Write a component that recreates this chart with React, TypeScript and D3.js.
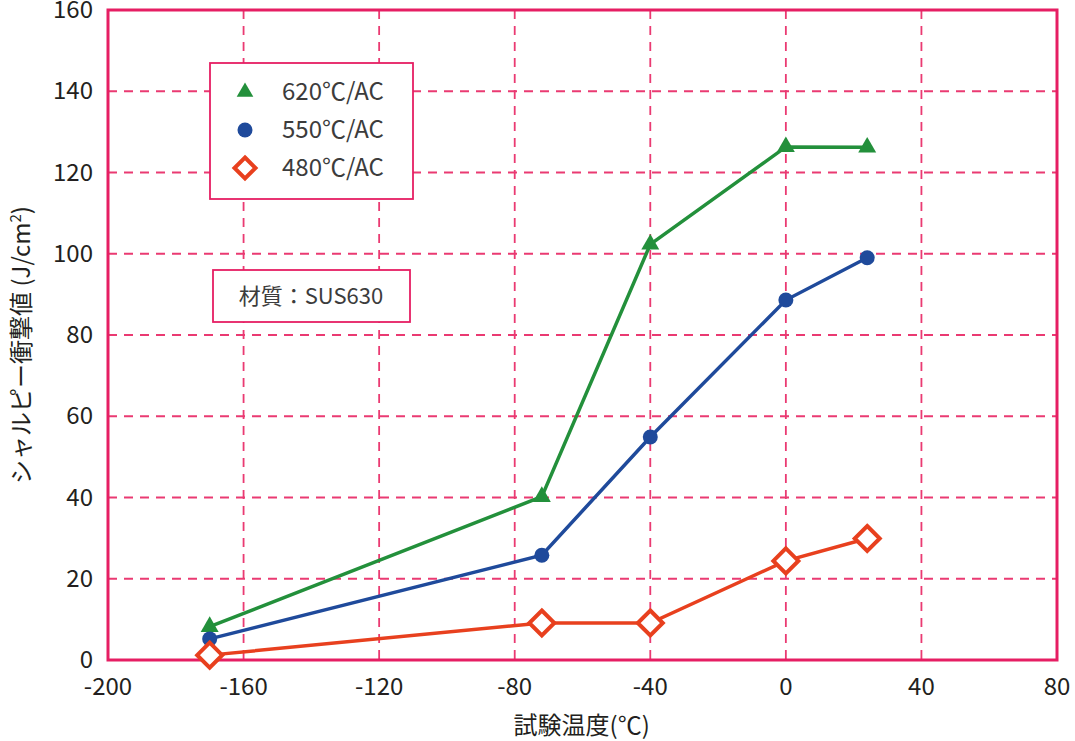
import React, { useEffect, useRef } from 'react';
import * as d3 from 'd3';

// test temperatures (°C)
const temps = [-170, -72, -40, 0, 24];
const series620 = [8.2, 40.2, 102.3, 126.3, 126.2];
const series550 = [5.2, 25.8, 54.9, 88.6, 99.0];
const series480 = [1.2, 9.1, 9.1, 24.4, 29.9];
const seriesNames = ['620℃/AC', '550℃/AC', '480℃/AC'];
const xTicks = [-200, -160, -120, -80, -40, 0, 40, 80];
const yTicks = [0, 20, 40, 60, 80, 100, 120, 140, 160];

const PINK = '#e61e63';
const GRID = '#ea3a72';
const GREEN = '#23903b';
const BLUE = '#1f4a9b';
const RED = '#e8401e';
const TEXT = '#231f20';
const FONT = '"Noto Sans CJK JP", "Noto Sans", sans-serif';

const App: React.FC = () => {
    const chartRef = useRef<SVGSVGElement | null>(null);

    useEffect(() => {
        if (!chartRef.current) return;
        const width = 1075;
        const height = 741;
        const margin = { top: 10, right: 18, bottom: 81, left: 108 };
        const w = width - margin.left - margin.right;
        const h = height - margin.top - margin.bottom;

        d3.select(chartRef.current).selectAll('*').remove();

        const root = d3.select(chartRef.current)
            .attr('width', width)
            .attr('height', height)
            .style('font-family', FONT);

        const svg = root.append('g')
            .attr('transform', `translate(${margin.left}, ${margin.top})`);

        const x = d3.scaleLinear().domain([-200, 80]).range([0, w]);
        const y = d3.scaleLinear().domain([0, 160]).range([h, 0]);

        // dashed grid
        svg.append('g')
            .selectAll('line.vg')
            .data(xTicks.slice(1, -1))
            .enter()
            .append('line')
            .attr('x1', d => x(d)).attr('x2', d => x(d))
            .attr('y1', 0).attr('y2', h)
            .attr('stroke', GRID)
            .attr('stroke-width', 1.8)
            .attr('stroke-dasharray', '9 7');

        svg.append('g')
            .selectAll('line.hg')
            .data(yTicks.slice(1, -1))
            .enter()
            .append('line')
            .attr('x1', 0).attr('x2', w)
            .attr('y1', d => y(d)).attr('y2', d => y(d))
            .attr('stroke', GRID)
            .attr('stroke-width', 1.8)
            .attr('stroke-dasharray', '9 7');

        // frame
        svg.append('rect')
            .attr('x', 0).attr('y', 0)
            .attr('width', w).attr('height', h)
            .attr('fill', 'none')
            .attr('stroke', PINK)
            .attr('stroke-width', 3);

        // tick labels
        svg.selectAll('text.xt')
            .data(xTicks)
            .enter()
            .append('text')
            .attr('x', d => x(d))
            .attr('y', h + 35)
            .attr('text-anchor', 'middle')
            .attr('fill', TEXT)
            .style('font-size', '24px')
            .text(d => d);

        svg.selectAll('text.yt')
            .data(yTicks)
            .enter()
            .append('text')
            .attr('x', -15)
            .attr('y', d => y(d) + 8)
            .attr('text-anchor', 'end')
            .attr('fill', TEXT)
            .style('font-size', '24px')
            .text(d => d);

        // axis titles
        svg.append('text')
            .attr('x', x(-80) + 67)
            .attr('y', h + 74)
            .attr('text-anchor', 'middle')
            .attr('fill', TEXT)
            .style('font-size', '24px')
            .text('試験温度(℃)');

        const yt = root.append('text')
            .attr('transform', 'translate(30, 345) rotate(-90)')
            .attr('text-anchor', 'middle')
            .attr('fill', TEXT)
            .style('font-size', '24px');
        yt.append('tspan').text('シャルピー衝撃値 (J/cm');
        yt.append('tspan').attr('dy', -9).style('font-size', '15px').text('2');
        yt.append('tspan').attr('dy', 9).text(')');

        const line = d3.line<number>()
            .x((d, i) => x(temps[i]))
            .y(d => y(d));

        const allSeries = [
            { values: series620, color: GREEN, shape: 'tri' },
            { values: series550, color: BLUE, shape: 'circle' },
            { values: series480, color: RED, shape: 'diamond' },
        ];

        allSeries.forEach(s => {
            svg.append('path')
                .datum(s.values)
                .attr('fill', 'none')
                .attr('stroke', s.color)
                .attr('stroke-width', 3.5)
                .attr('d', line);
        });

        const drawMarker = (g: d3.Selection<SVGGElement, unknown, null, undefined>, shape: string, color: string, cx: number, cy: number, legend: boolean) => {
            if (shape === 'tri') {
                g.append('path')
                    .attr('d', d3.symbol().type(d3.symbolTriangle).size(legend ? 120 : 140)())
                    .attr('transform', `translate(${cx}, ${cy})`)
                    .attr('fill', color);
            } else if (shape === 'circle') {
                g.append('circle')
                    .attr('cx', cx).attr('cy', cy)
                    .attr('r', 7.5)
                    .attr('fill', color);
            } else {
                const r = legend ? 10.5 : 12.5;
                g.append('path')
                    .attr('d', `M${cx},${cy - r}L${cx + r},${cy}L${cx},${cy + r}L${cx - r},${cy}Z`)
                    .attr('fill', '#fff')
                    .attr('stroke', color)
                    .attr('stroke-width', 4);
            }
        };

        allSeries.forEach(s => {
            const g = svg.append('g');
            s.values.forEach((v, i) => drawMarker(g, s.shape, s.color, x(temps[i]), y(v), false));
        });

        // legend box
        const lg = root.append('g');
        lg.append('rect')
            .attr('x', 210).attr('y', 63)
            .attr('width', 203).attr('height', 136)
            .attr('fill', '#fff')
            .attr('stroke', PINK)
            .attr('stroke-width', 1.8);
        allSeries.forEach((s, i) => {
            const cy = 92 + i * 38;
            drawMarker(lg, s.shape, s.color, 245, cy, true);
            lg.append('text')
                .attr('x', 282)
                .attr('y', cy + 8)
                .attr('fill', '#3c3c3c')
                .style('font-size', '24px')
                .text(seriesNames[i]);
        });

        // material note
        root.append('rect')
            .attr('x', 213).attr('y', 270)
            .attr('width', 197).attr('height', 52)
            .attr('fill', '#fff')
            .attr('stroke', PINK)
            .attr('stroke-width', 1.8);
        root.append('text')
            .attr('x', 311)
            .attr('y', 304)
            .attr('text-anchor', 'middle')
            .attr('fill', '#3c3c3c')
            .style('font-size', '22px')
            .text('材質：SUS630');
    }, []);

    return <svg ref={chartRef} style={{ position: 'absolute', left: 0, top: 0, background: '#fff' }} />;
};

export default App;
